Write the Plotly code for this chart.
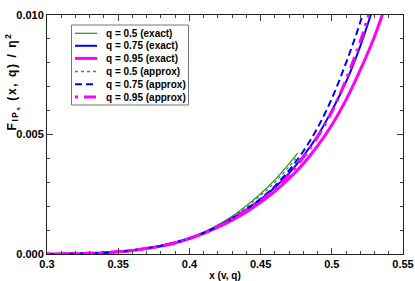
import plotly.graph_objects as go

# ---- data ----
x_full = [0.30, 0.31, 0.32, 0.33, 0.34, 0.35, 0.36, 0.37, 0.38, 0.39, 0.40,
          0.41, 0.42, 0.43, 0.44, 0.45, 0.46, 0.47, 0.48, 0.49, 0.50, 0.51,
          0.52, 0.53, 0.54]

x_q05 = [0.30, 0.31, 0.32, 0.33, 0.34, 0.35, 0.36, 0.37, 0.38, 0.39, 0.40,
         0.41, 0.42, 0.43, 0.44, 0.45, 0.46, 0.47, 0.476]
y_q05_exact = [0.0, 0.000005, 0.00001, 0.00003, 0.00005, 0.00009, 0.00016,
               0.00025, 0.00036, 0.00050, 0.00068, 0.00092, 0.00122, 0.00158,
               0.00202, 0.00252, 0.00310, 0.00378, 0.00422]
y_q05_approx = [0.0, 0.000005, 0.00001, 0.00003, 0.00005, 0.00009, 0.00016,
                0.00025, 0.00035, 0.00049, 0.00066, 0.00089, 0.00118, 0.00153,
                0.00196, 0.00245, 0.00300, 0.00366, 0.00410]

x_q075 = x_full[:-1]
y_q075_exact = [0.0, 0.000005, 0.00001, 0.00003, 0.00005, 0.00009, 0.00015,
                0.00024, 0.00034, 0.00048, 0.00066, 0.00088, 0.00116, 0.00149,
                0.00186, 0.00228, 0.00278, 0.00338, 0.00410, 0.00495, 0.00600,
                0.00720, 0.00870, 0.01050]
y_q075_approx = [0.0, 0.000005, 0.00001, 0.00003, 0.00005, 0.00009, 0.00015,
                 0.00024, 0.00034, 0.00048, 0.00066, 0.00088, 0.00116, 0.00150,
                 0.00188, 0.00231, 0.00284, 0.00350, 0.00430, 0.00528, 0.00650,
                 0.00800, 0.00970, 0.01180]

x_q095 = x_full
y_q095_exact = [0.0, 0.000005, 0.00001, 0.00003, 0.00005, 0.00009, 0.00015,
                0.00023, 0.00033, 0.00046, 0.00064, 0.00086, 0.00112, 0.00142,
                0.00176, 0.00216, 0.00262, 0.00316, 0.00378, 0.00452, 0.00540,
                0.00645, 0.00770, 0.00910, 0.01080]
y_q095_approx = [0.0, 0.000005, 0.00001, 0.00003, 0.00005, 0.00009, 0.00015,
                 0.00024, 0.00034, 0.00047, 0.00065, 0.00087, 0.00114, 0.00146,
                 0.00183, 0.00222, 0.00272, 0.00332, 0.00404, 0.00490, 0.00595,
                 0.00730, 0.00890, 0.01080]

series_names = ["q = 0.5 (exact)", "q = 0.75 (exact)", "q = 0.95 (exact)",
                "q = 0.5 (approx)", "q = 0.75 (approx)", "q = 0.95 (approx)"]

x_ticks = [0.3, 0.35, 0.4, 0.45, 0.5, 0.55]
x_ticklabels = ["0.3", "0.35", "0.4", "0.45", "0.5", "0.55"]
y_ticks = [0.0, 0.005, 0.010]
y_ticklabels = ["0.000", "0.005", "0.010"]

GREEN = "#2e9a2e"
BLUE = "#0000ff"
MAGENTA = "#ff00ff"

styles = [
    dict(color=GREEN, width=1.3),
    dict(color=BLUE, width=2),
    dict(color=MAGENTA, width=3),
    dict(color=GREEN, width=1.3, dash="dot"),
    dict(color=BLUE, width=2, dash="7px,4px"),
    dict(color=MAGENTA, width=3, dash="3px,6px,12px,6px"),
]
xs = [x_q05, x_q075, x_q095, x_q05, x_q075, x_q095]
ys = [y_q05_exact, y_q075_exact, y_q095_exact, y_q05_approx, y_q075_approx, y_q095_approx]

fig = go.Figure()
for name, xv, yv, st in zip(series_names, xs, ys, styles):
    fig.add_trace(go.Scatter(x=xv, y=yv, mode="lines", name=name,
                             line=dict(shape="spline", **st), showlegend=False))

axis_common = dict(showline=True, linecolor="#222", linewidth=1, mirror="ticks",
                   ticks="inside", ticklen=6, tickcolor="#444", showgrid=False, zeroline=False,
                   automargin=False,
                   tickfont=dict(family="Liberation Sans", size=11, color="#000", weight="bold"))

fig.update_xaxes(range=[0.3, 0.55], tickvals=x_ticks, ticktext=x_ticklabels,
                 minor=dict(ticks="inside", ticklen=3, dtick=0.01, tickcolor="#444"),
                 title=dict(text="x (v, q)", standoff=2,
                            font=dict(family="Liberation Sans", size=10, color="#000", weight="bold")),
                 **axis_common)
fig.update_yaxes(range=[0.0, 0.010], tickvals=y_ticks, ticktext=y_ticklabels,
                 minor=dict(ticks="inside", ticklen=3, dtick=0.001, tickcolor="#444"),
                 **axis_common)

# y-axis title
fig.add_annotation(text='<span style="letter-spacing:1.6px">F<sub>IP<sub>s</sub></sub> (x, q) / η<sup>2</sup></span>',
                   xref="paper", yref="paper", x=-0.098, y=0.722, textangle=-90,
                   showarrow=False, xanchor="center", yanchor="middle",
                   font=dict(family="Liberation Sans", size=12, color="#000", weight="bold"))

# ---- manual legend (compact, as in the reference) ----
L, T, W, H = 47, 15, 356, 239  # plot area in pixels
def px(xp):
    return (xp - L) / W
def py(yp):
    return (T + H - yp) / H

fig.add_shape(type="rect", xref="paper", yref="paper",
              x0=px(71.5), x1=px(188.5), y0=py(105), y1=py(25),
              line=dict(color="#777", width=1), fillcolor="white", layer="above")
row_y = [33.3, 45.8, 58.4, 71.5, 84.2, 97.0]
for name, st, ry in zip(series_names, styles, row_y):
    fig.add_shape(type="line", xref="paper", yref="paper",
                  x0=px(75), x1=px(97), y0=py(ry), y1=py(ry),
                  line=st, layer="above")
    fig.add_annotation(text=name, xref="paper", yref="paper",
                       x=px(103.5), y=py(ry), xanchor="left", yanchor="middle",
                       showarrow=False,
                       font=dict(family="Liberation Sans", size=10, color="#000", weight="bold"))

fig.update_layout(
    width=415, height=281,
    margin=dict(l=47, r=12, t=15, b=27),
    plot_bgcolor="white", paper_bgcolor="white",
    showlegend=False,
)

fig.write_html("out.html",
               config={"displayModeBar": False},
               post_script="document.body.style.margin='0';document.body.style.overflow='hidden';")
